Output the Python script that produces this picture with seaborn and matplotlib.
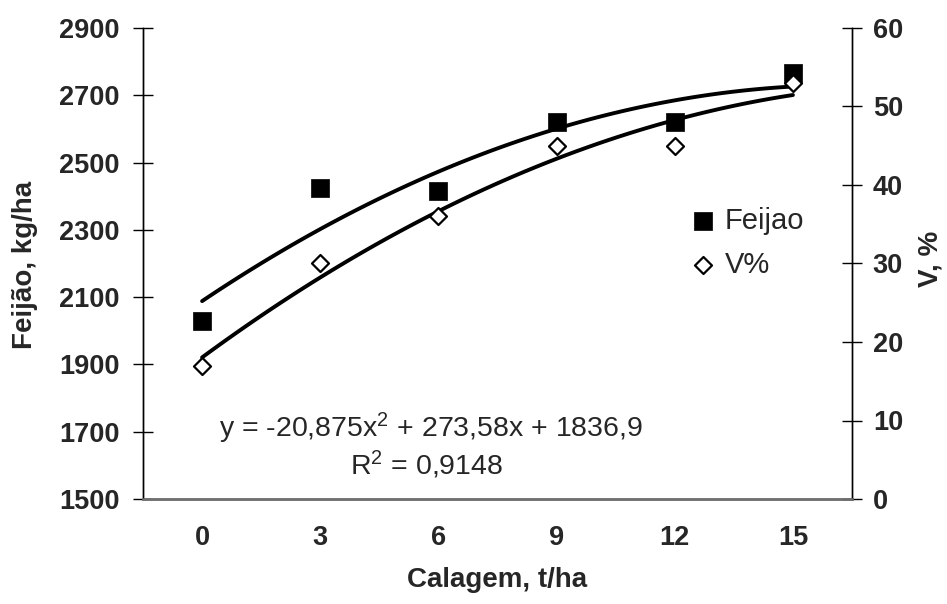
import numpy as np
import pandas as pd
import matplotlib
matplotlib.use("Agg")
import matplotlib.pyplot as plt
import seaborn as sns

# data
calagem = [0, 3, 6, 9, 12, 15]
feijao = [2030, 2425, 2415, 2620, 2620, 2765]
v_pct = [17, 30, 36, 45, 45, 53]

eq_text = "y = -20,875x$^{2}$ + 273,58x + 1836,9"
r2_text = "R$^{2}$ = 0,9148"

sns.set_style("white")
plt.rcParams["font.family"] = ["Liberation Sans", "DejaVu Sans"]
plt.rcParams["mathtext.fontset"] = "custom"
plt.rcParams["mathtext.rm"] = "Liberation Sans"
plt.rcParams["mathtext.it"] = "Liberation Sans:italic"
plt.rcParams["mathtext.bf"] = "Liberation Sans:bold"
plt.rcParams["mathtext.default"] = "rm"

df = pd.DataFrame({"calagem": calagem, "feijao": feijao, "v": v_pct})

fig = plt.figure(figsize=(9.47, 6.04), dpi=100)
ax = fig.add_axes([143 / 947, 1 - 499 / 604, (852 - 143) / 947, (499 - 28) / 604])
ax2 = ax.twinx()

# Feijao on left axis
sns.regplot(data=df, x="calagem", y="feijao", order=2, ci=None, scatter=False,
            color="black", line_kws={"lw": 2.8}, ax=ax)
sns.scatterplot(data=df, x="calagem", y="feijao", marker="s", s=150, color="black",
                edgecolor="black", linewidth=0.5, label="Feijao", ax=ax, zorder=4)

# V% on right axis
sns.regplot(data=df, x="calagem", y="v", order=2, ci=None, scatter=False,
            color="black", line_kws={"lw": 2.8}, ax=ax2)
sns.scatterplot(data=df, x="calagem", y="v", marker="D", s=75, color="white",
                edgecolor="black", linewidth=1.6, label="V%", ax=ax2, zorder=4)

# axes ranges and ticks
ax.set_xlim(-1.5, 16.5)
ax.set_ylim(1500, 2900)
ax2.set_ylim(0, 60)
xt = np.arange(-1.5, 16.6, 1.5)
ax.set_xticks(xt)
ax.set_xticklabels([str(int(t)) if t >= 0 and t % 3 == 0 else "" for t in xt])
ax.set_yticks(np.arange(1500, 2901, 200))
ax2.set_yticks(np.arange(0, 61, 10))

ax.tick_params(axis="x", direction="inout", length=13, width=1, color="black",
               labelsize=19.5, pad=12)
ax.tick_params(axis="y", direction="inout", length=14, width=1, color="black",
               labelsize=19.5, pad=10)
ax2.tick_params(axis="y", direction="inout", length=14, width=1, color="black",
                labelsize=19.5, pad=8)
for lab in ax.get_xticklabels() + ax.get_yticklabels() + ax2.get_yticklabels():
    lab.set_fontweight("bold")

for a in (ax, ax2):
    a.spines["top"].set_visible(False)
    a.spines["left"].set_color("black")
    a.spines["right"].set_color("black")
    a.spines["left"].set_linewidth(1)
    a.spines["right"].set_linewidth(1)
    a.spines["bottom"].set_color("#707070")
    a.spines["bottom"].set_linewidth(1.8)

ax.set_xlabel("Calagem, t/ha", fontsize=20, fontweight="bold")
ax.set_ylabel("Feijão, kg/ha", fontsize=20, fontweight="bold")
ax2.set_ylabel("V, %", fontsize=20, fontweight="bold")
ax.xaxis.set_label_coords(0.499, -0.145)
ax.yaxis.set_label_coords(-0.148, 0.497)
ax2.yaxis.set_label_coords(1.092, 0.51)

# trendline equation
fig.text(431 / 947, 1 - 428 / 604, eq_text, fontsize=20.5, va="center", ha="center")
fig.text(427 / 947, 1 - 465 / 604, r2_text, fontsize=20.5, va="center", ha="center")

# legend
h1, l1 = ax.get_legend_handles_labels()
h2, l2 = ax2.get_legend_handles_labels()
ax.get_legend().remove()
ax2.get_legend().remove()
fig.legend(h1 + h2, l1 + l2, loc="upper left", bbox_to_anchor=(688 / 947, 1 - 207 / 604),
           frameon=False, fontsize=21, handletextpad=0.27, handlelength=1.0,
           borderpad=0, borderaxespad=0, labelspacing=0.55)

fig.savefig("out.png", dpi=100)
